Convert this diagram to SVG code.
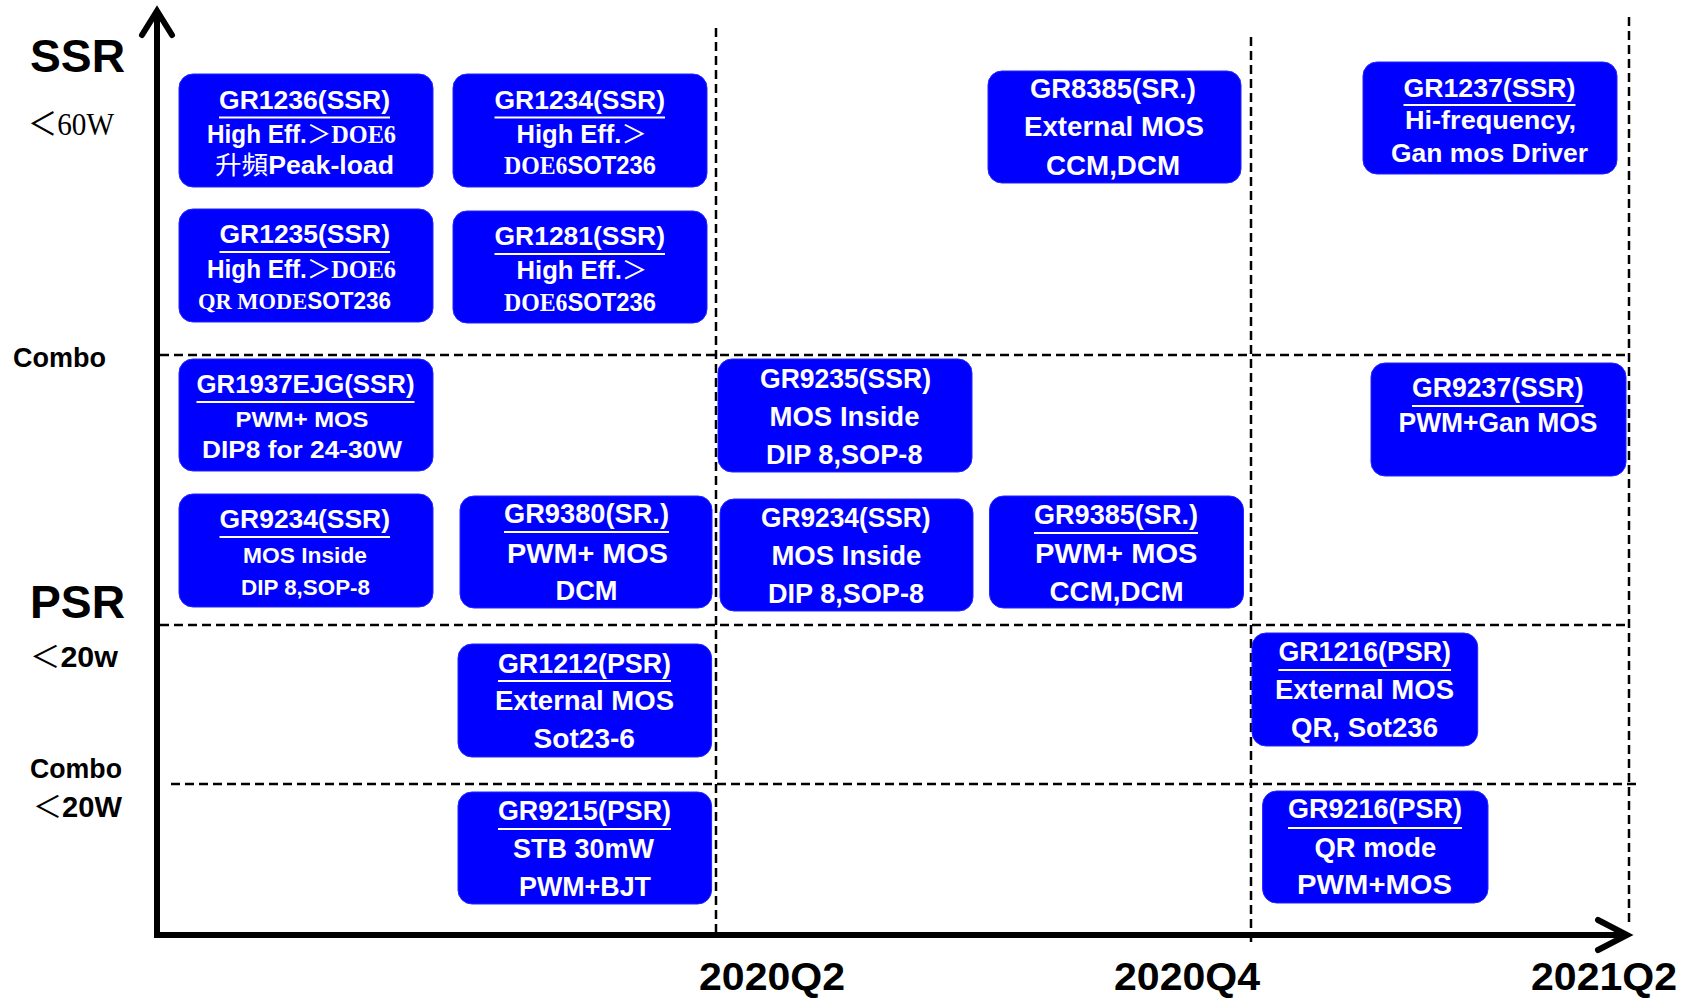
<svg xmlns="http://www.w3.org/2000/svg" width="1691" height="999" viewBox="0 0 1691 999">
<style>
.box{fill:#0000ff;stroke:#2525ff;stroke-width:1}
.t{font-family:"Liberation Sans",Arial,"Noto Sans CJK TC",sans-serif;font-weight:bold;fill:#fff;font-size:28px}
.c{font-size:25px}
.s{font-size:22px}
.m{font-size:24px}
.serif{font-family:"Liberation Serif","Noto Sans CJK TC",serif}
.cjk{font-family:"Noto Sans CJK TC",sans-serif}
.ul{stroke:#fff;stroke-width:2}
.grid{stroke:#000;stroke-width:2.5;stroke-dasharray:9 5;fill:none}
.axis{stroke:#000;stroke-width:6;fill:none}
.lbl{font-family:"Liberation Sans",Arial,"Noto Sans CJK TC",sans-serif;font-weight:bold;fill:#000}
</style>
<rect width="1691" height="999" fill="#fff"/>
<g id="connectors">
<line class="grid" x1="160" y1="355" x2="1629" y2="355"/>
<line class="grid" x1="160" y1="625" x2="1629" y2="625"/>
<line class="grid" x1="171" y1="784" x2="1639" y2="784"/>
<line class="grid" x1="716" y1="28" x2="716" y2="935"/>
<line class="grid" x1="1251" y1="37" x2="1251" y2="942"/>
<line class="grid" x1="1629" y1="17" x2="1629" y2="923"/>
<line class="axis" x1="157" y1="12" x2="157" y2="938"/>
<line class="axis" x1="154" y1="935" x2="1625" y2="935"/>
<polyline class="axis" points="142,35 157,11 172,35" stroke-linecap="round"/>
<polyline class="axis" points="1598,920 1627,935 1598,950" stroke-linecap="round"/>
</g>
<g id="labels">
<text class="lbl" x="30" y="72" font-size="47" textLength="95" lengthAdjust="spacingAndGlyphs">SSR</text>
<text class="lbl" x="28" y="135" font-size="32" font-weight="normal" textLength="86" lengthAdjust="spacingAndGlyphs"><tspan class="cjk" font-weight="normal">＜</tspan><tspan font-family="Liberation Serif" font-weight="normal">60W</tspan></text>
<text class="lbl" x="13" y="367" font-size="27" textLength="93" lengthAdjust="spacingAndGlyphs">Combo</text>
<text class="lbl" x="30" y="618" font-size="47" textLength="95" lengthAdjust="spacingAndGlyphs">PSR</text>
<text class="lbl" x="30" y="667" font-size="30" textLength="88" lengthAdjust="spacingAndGlyphs"><tspan class="cjk" font-weight="normal">＜</tspan>20w</text>
<text class="lbl" x="30" y="778" font-size="27" textLength="92" lengthAdjust="spacingAndGlyphs">Combo</text>
<text class="lbl" x="33" y="817" font-size="30" textLength="89" lengthAdjust="spacingAndGlyphs"><tspan class="cjk" font-weight="normal">＜</tspan>20W</text>
<text class="lbl" x="699" y="990" font-size="38" textLength="146" lengthAdjust="spacingAndGlyphs">2020Q2</text>
<text class="lbl" x="1114" y="990" font-size="38" textLength="146" lengthAdjust="spacingAndGlyphs">2020Q4</text>
<text class="lbl" x="1531" y="990" font-size="38" textLength="146" lengthAdjust="spacingAndGlyphs">2021Q2</text>
</g>
<g id="GR1236">
<rect class="box" x="179" y="74" width="254" height="113" rx="14"/>
<text class="t c" x="219" y="109" textLength="171" lengthAdjust="spacingAndGlyphs">GR1236(SSR)</text>
<line class="ul" x1="219" y1="117.5" x2="390" y2="117.5"/>
<text class="t c" x="207" y="143" textLength="189" lengthAdjust="spacingAndGlyphs">High Eff.<tspan class="cjk" font-weight="normal">＞</tspan><tspan class="serif">DOE6</tspan></text>
<text class="t c" x="215" y="174" textLength="179" lengthAdjust="spacingAndGlyphs"><tspan class="cjk" font-weight="normal">升頻</tspan>Peak-load</text>
</g>
<g id="GR1234">
<rect class="box" x="453" y="74" width="254" height="113" rx="14"/>
<text class="t c" x="494.5" y="109" textLength="170.5" lengthAdjust="spacingAndGlyphs">GR1234(SSR)</text>
<line class="ul" x1="494.5" y1="117.5" x2="665" y2="117.5"/>
<text class="t c" x="516.5" y="143" textLength="130.5" lengthAdjust="spacingAndGlyphs">High Eff.<tspan class="cjk" font-weight="normal">＞</tspan></text>
<text class="t c" x="504" y="174" textLength="152" lengthAdjust="spacingAndGlyphs"><tspan class="serif">DOE6</tspan>SOT236</text>
</g>
<g id="GR1235">
<rect class="box" x="179" y="209" width="254" height="113" rx="14"/>
<text class="t c" x="219.5" y="243" textLength="170.5" lengthAdjust="spacingAndGlyphs">GR1235(SSR)</text>
<line class="ul" x1="219.5" y1="252" x2="390" y2="252"/>
<text class="t c" x="207" y="278" textLength="189" lengthAdjust="spacingAndGlyphs">High Eff.<tspan class="cjk" font-weight="normal">＞</tspan><tspan class="serif">DOE6</tspan></text>
<text class="t m" x="198" y="309" textLength="193" lengthAdjust="spacingAndGlyphs"><tspan class="serif">QR MODE</tspan>SOT236</text>
</g>
<g id="GR1281">
<rect class="box" x="453" y="211" width="254" height="112" rx="14"/>
<text class="t c" x="494.5" y="245" textLength="170.5" lengthAdjust="spacingAndGlyphs">GR1281(SSR)</text>
<line class="ul" x1="494.5" y1="254" x2="665" y2="254"/>
<text class="t c" x="516.5" y="279" textLength="131" lengthAdjust="spacingAndGlyphs">High Eff.<tspan class="cjk" font-weight="normal">＞</tspan></text>
<text class="t c" x="504" y="311" textLength="152" lengthAdjust="spacingAndGlyphs"><tspan class="serif">DOE6</tspan>SOT236</text>
</g>
<g id="GR8385">
<rect class="box" x="988" y="71" width="253" height="112" rx="14"/>
<text class="t" x="1030" y="98" textLength="166" lengthAdjust="spacingAndGlyphs">GR8385(SR.)</text>
<text class="t" x="1024" y="136" textLength="180" lengthAdjust="spacingAndGlyphs">External MOS</text>
<text class="t" x="1046" y="175" textLength="134" lengthAdjust="spacingAndGlyphs">CCM,DCM</text>
</g>
<g id="GR1237">
<rect class="box" x="1363" y="62" width="254" height="112" rx="14"/>
<text class="t c" x="1403.5" y="97" textLength="172" lengthAdjust="spacingAndGlyphs">GR1237(SSR)</text>
<line class="ul" x1="1403.5" y1="105" x2="1575.5" y2="105"/>
<text class="t c" x="1405" y="129" textLength="171" lengthAdjust="spacingAndGlyphs">Hi-frequency,</text>
<text class="t c" x="1391" y="162" textLength="197" lengthAdjust="spacingAndGlyphs">Gan mos Driver</text>
</g>
<g id="GR1937EJG">
<rect class="box" x="179" y="359" width="254" height="112" rx="14"/>
<text class="t c" x="196.5" y="393" textLength="218" lengthAdjust="spacingAndGlyphs">GR1937EJG(SSR)</text>
<line class="ul" x1="196.5" y1="402" x2="414.5" y2="402"/>
<text class="t s" x="235.5" y="427" textLength="133" lengthAdjust="spacingAndGlyphs">PWM+ MOS</text>
<text class="t m" x="202" y="458" textLength="200" lengthAdjust="spacingAndGlyphs">DIP8 for 24-30W</text>
</g>
<g id="GR9234a">
<rect class="box" x="179" y="494" width="254" height="113" rx="14"/>
<text class="t c" x="219.5" y="528" textLength="170.5" lengthAdjust="spacingAndGlyphs">GR9234(SSR)</text>
<line class="ul" x1="219.5" y1="537" x2="390" y2="537"/>
<text class="t s" x="243" y="563" textLength="124" lengthAdjust="spacingAndGlyphs">MOS Inside</text>
<text class="t s" x="241" y="595" textLength="129" lengthAdjust="spacingAndGlyphs">DIP 8,SOP-8</text>
</g>
<g id="GR9380">
<rect class="box" x="460" y="496" width="252" height="112" rx="14"/>
<text class="t" x="504" y="523" textLength="165" lengthAdjust="spacingAndGlyphs">GR9380(SR.)</text>
<line class="ul" x1="504" y1="532" x2="669" y2="532"/>
<text class="t" x="507" y="563" textLength="161" lengthAdjust="spacingAndGlyphs">PWM+ MOS</text>
<text class="t" x="555.5" y="600" textLength="62" lengthAdjust="spacingAndGlyphs">DCM</text>
</g>
<g id="GR9235">
<rect class="box" x="718" y="359" width="254" height="113" rx="14"/>
<text class="t" x="760" y="388" textLength="171" lengthAdjust="spacingAndGlyphs">GR9235(SSR)</text>
<text class="t" x="769.5" y="426" textLength="150" lengthAdjust="spacingAndGlyphs">MOS Inside</text>
<text class="t" x="766" y="464" textLength="156.5" lengthAdjust="spacingAndGlyphs">DIP 8,SOP-8</text>
</g>
<g id="GR9234b">
<rect class="box" x="720" y="499" width="253" height="112" rx="14"/>
<text class="t" x="761" y="527" textLength="169.5" lengthAdjust="spacingAndGlyphs">GR9234(SSR)</text>
<text class="t" x="771.4" y="565" textLength="150" lengthAdjust="spacingAndGlyphs">MOS Inside</text>
<text class="t" x="768" y="603" textLength="156" lengthAdjust="spacingAndGlyphs">DIP 8,SOP-8</text>
</g>
<g id="GR9385">
<rect class="box" x="989.5" y="496" width="254" height="112" rx="14"/>
<text class="t" x="1034" y="524" textLength="164" lengthAdjust="spacingAndGlyphs">GR9385(SR.)</text>
<line class="ul" x1="1034" y1="533" x2="1198" y2="533"/>
<text class="t" x="1035" y="563" textLength="162.5" lengthAdjust="spacingAndGlyphs">PWM+ MOS</text>
<text class="t" x="1049.6" y="601" textLength="134" lengthAdjust="spacingAndGlyphs">CCM,DCM</text>
</g>
<g id="GR9237">
<rect class="box" x="1371" y="363" width="255" height="113" rx="14"/>
<text class="t" x="1412" y="397" textLength="171.7" lengthAdjust="spacingAndGlyphs">GR9237(SSR)</text>
<line class="ul" x1="1412" y1="406" x2="1583.7" y2="406"/>
<text class="t" x="1398.5" y="432" textLength="199" lengthAdjust="spacingAndGlyphs">PWM+Gan MOS</text>
</g>
<g id="GR1212">
<rect class="box" x="458" y="644" width="253.6" height="113" rx="14"/>
<text class="t" x="498" y="673" textLength="173" lengthAdjust="spacingAndGlyphs">GR1212(PSR)</text>
<line class="ul" x1="498" y1="681" x2="671" y2="681"/>
<text class="t" x="495" y="710" textLength="179" lengthAdjust="spacingAndGlyphs">External MOS</text>
<text class="t" x="533.5" y="748" textLength="101.5" lengthAdjust="spacingAndGlyphs">Sot23-6</text>
</g>
<g id="GR9215">
<rect class="box" x="458" y="792" width="253.6" height="112" rx="14"/>
<text class="t" x="498" y="820" textLength="173" lengthAdjust="spacingAndGlyphs">GR9215(PSR)</text>
<line class="ul" x1="498" y1="829" x2="671" y2="829"/>
<text class="t" x="513" y="858" textLength="141" lengthAdjust="spacingAndGlyphs">STB 30mW</text>
<text class="t" x="519" y="896" textLength="132" lengthAdjust="spacingAndGlyphs">PWM+BJT</text>
</g>
<g id="GR1216">
<rect class="box" x="1252" y="633" width="225.7" height="113" rx="14"/>
<text class="t" x="1278.4" y="661" textLength="172.6" lengthAdjust="spacingAndGlyphs">GR1216(PSR)</text>
<line class="ul" x1="1278.4" y1="670" x2="1451" y2="670"/>
<text class="t" x="1275" y="699" textLength="179" lengthAdjust="spacingAndGlyphs">External MOS</text>
<text class="t" x="1291" y="737" textLength="147" lengthAdjust="spacingAndGlyphs">QR, Sot236</text>
</g>
<g id="GR9216">
<rect class="box" x="1262.6" y="791" width="225.4" height="112" rx="14"/>
<text class="t" x="1288" y="818" textLength="174" lengthAdjust="spacingAndGlyphs">GR9216(PSR)</text>
<line class="ul" x1="1288" y1="828" x2="1462" y2="828"/>
<text class="t" x="1314.4" y="857" textLength="122" lengthAdjust="spacingAndGlyphs">QR mode</text>
<text class="t" x="1297" y="894" textLength="155" lengthAdjust="spacingAndGlyphs">PWM+MOS</text>
</g>
</svg>
